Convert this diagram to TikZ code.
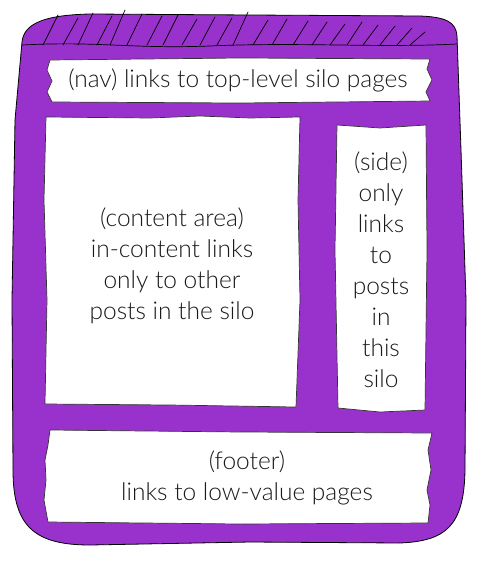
\documentclass[tikz,border=0pt]{standalone}
\usepackage{fontspec}
\setmainfont{Lato Light}
\definecolor{silo}{HTML}{9932CC}
\definecolor{ink}{HTML}{1A1A1A}
\tikzset{
  frame/.style={fill=silo, draw=black, line width=0.8pt, line join=round},
  paper/.style={fill=white, draw=black!80, line width=0.7pt, line join=round},
  hatch/.style={draw=black, line width=0.7pt, line cap=round},
  label/.style={text=ink, font=\fontsize{24.5}{31}\selectfont, align=center, inner sep=0pt}
}
\begin{document}
\begin{tikzpicture}[x=1pt,y=-1pt]
\useasboundingbox (0,0) rectangle (481,573);
% outer frame
\path[frame] (22,42) .. controls (24,22) and (48,15) .. (90,14)
  -- (250,15) -- (420,16) .. controls (446,17) and (456,22) .. (457,36)
  -- (461,150) -- (466,300) -- (465,470)
  .. controls (464,526) and (446,541) .. (400,543)
  -- (250,542) -- (90,545) .. controls (34,545) and (13,526) .. (13,470)
  -- (12,300) -- (15,120) -- cycle;
% band line
\draw[hatch] (22,45) .. controls (100,41) and (130,49) .. (210,46)
  .. controls (300,42) and (380,48) .. (457,44);
% hatching
\foreach \x/\t in {43/5,63/8,78/3,97/6,110/0,127/4,147/6,163/5,182/9,200/7,217/8,233/2,253/10,272/9,293/11,312/12,330/14,347/12,363/15,380/16,397/18,410/22}{
  \draw[hatch] (\x,45) -- (\x+15,\t+10);
}
% nav
\path[paper] (50,60) -- (240,58) -- (430,59) -- (427,69) -- (432,80) -- (426,92) -- (430,101)
  -- (240,103) -- (52,102) -- (47,92) -- (52,81) -- (47,70) -- cycle;
\node[label] (nav) at (238,80) {(nav) links to top-level silo pages};
% content
\path[paper] (46,117) -- (150,118) -- (200,116) -- (250,118) -- (300,117) -- (298,200) -- (300,300)
  -- (296,407) -- (170,405) -- (45,404) -- (47,300) -- (44,200) -- cycle;
\node[label] (content) at (172,266) {(content area)\\in-content links\\only to other\\posts in the silo};
% side
\path[paper] (337,125) -- (380,128) -- (426,125) -- (427,250) -- (425,410)
  -- (380,412) -- (338,408) -- (335,250) -- cycle;
\node[label] (side) at (381,270) {(side)\\only\\links\\to\\posts\\in\\this\\silo};
% footer
\path[paper] (50,430) -- (240,432) -- (432,433) -- (428,450) -- (431,470) -- (427,490) -- (430,505) -- (428,523)
  -- (240,524) -- (48,522) -- (44,500) -- (46,480) -- (45,460) -- (48,445) -- cycle;
\node[label] (footer) at (247,478) {(footer)\\links to low-value pages};
\end{tikzpicture}
\end{document}
